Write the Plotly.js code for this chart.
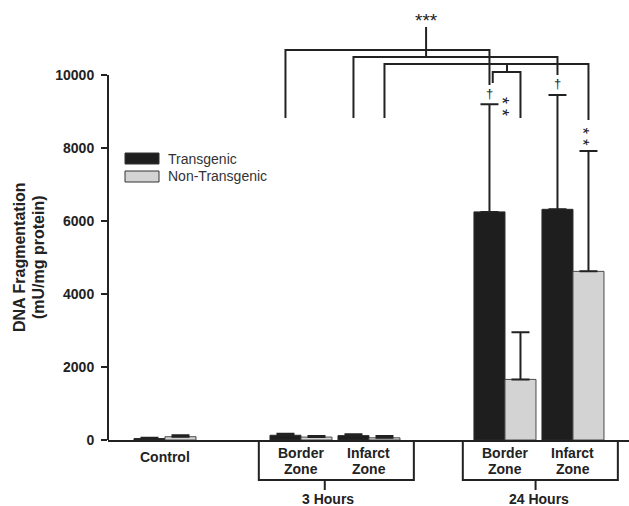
<!DOCTYPE html>
<html>
<head>
<meta charset="utf-8">
<script src="https://cdn.plot.ly/plotly-3.0.1.min.js"></script>
<style>html,body{margin:0;padding:0;background:#fff;}#chart{width:629px;height:506px;}</style>
</head>
<body>
<div id="chart"></div>
<script>
// ---- data ----
const categories = ['Control', '3 Hours Border Zone', '3 Hours Infarct Zone', '24 Hours Border Zone', '24 Hours Infarct Zone'];
const axisOrder = ['Control', 'gap-1', '3 Hours Border Zone', '3 Hours Infarct Zone', 'gap-2', '24 Hours Border Zone', '24 Hours Infarct Zone'];
const transgenic = [40, 130, 120, 6250, 6320];
const transgenicSD = [20, 40, 40, 2950, 3130];
const nonTransgenic = [90, 80, 60, 1660, 4620];
const nonTransgenicSD = [40, 30, 50, 1290, 3300];
const seriesNames = ['Transgenic', 'Non-Transgenic'];
const yTicks = [0, 2000, 4000, 6000, 8000, 10000];
const zoneLabels = [['Border', 'Zone'], ['Infarct', 'Zone'], ['Border', 'Zone'], ['Infarct', 'Zone']];
const groupLabels = ['3 Hours', '24 Hours'];
const yTitle = ['DNA Fragmentation', '(mU/mg protein)'];

// ---- layout helpers (pixel -> paper) ----
const L = 108, R = 629, T = 2, B = 440;
const PX = p => (p - L) / (R - L);
const PY = p => (B - p) / (B - T);
const ink = '#222';
const FONT = 'Liberation Sans, Arial, sans-serif';

const traces = [
  {type: 'bar', name: seriesNames[0], x: categories, y: transgenic,
   marker: {color: '#1e1e1e', line: {color: '#2a2a2a', width: 1}},
   error_y: {type: 'data', symmetric: false, array: transgenicSD, arrayminus: transgenicSD.map(() => 0), color: ink, thickness: 2, width: 9},
   showlegend: false, hoverinfo: 'none'},
  {type: 'bar', name: seriesNames[1], x: categories, y: nonTransgenic,
   marker: {color: '#d3d3d3', line: {color: '#4a4a4a', width: 1}},
   error_y: {type: 'data', symmetric: false, array: nonTransgenicSD, arrayminus: nonTransgenicSD.map(() => 0), color: ink, thickness: 2, width: 9},
   showlegend: false, hoverinfo: 'none'}
];

const shapes = [];
const annotations = [];
const line = (x0, y0, x1, y1, xref, yref, w) => shapes.push({type: 'line', x0, y0, x1, y1, xref: xref || 'x', yref: yref || 'y', line: {color: ink, width: w || 2}});

// y axis line (only up to 10000)
line(0, 0, 0, 10000, 'paper', 'y');

// significance brackets: [xLeft, yLeftBottom, yTop, xRight, yRightBottom]
const off = 0.228;
const brackets = [
  [2 - off, 8822, 10685, 5 - off, 9726],
  [3 - off, 8822, 10493, 6 - off, 10000],
  [3 + off, 8822, 10301, 6 + off, 8767],
  [4.82, 9781, 10082, 5 + off, 8822]
];
brackets.forEach(b => {
  shapes.push({type: 'path', xref: 'x', yref: 'y',
    path: `M${b[0]},${b[1]} L${b[0]},${b[2]} L${b[3]},${b[2]} L${b[3]},${b[4]}`,
    line: {color: ink, width: 2}});
});
line(3.84, 10493, 3.84, 11315);
line(5.03, 10082, 5.03, 10301);

const txt = (text, x, y, opts) => annotations.push(Object.assign({text, x, y, xref: 'x', yref: 'y', showarrow: false,
  font: {family: FONT, size: 14, color: ink}, xanchor: 'center', yanchor: 'middle'}, opts || {}));

txt('***', 3.84, 11480, {font: {family: FONT, size: 19, color: ink}});
txt('†', 5 - off, 9500, {font: {family: FONT, size: 13, color: ink}});
txt('†', 6 - off, 9770, {font: {family: FONT, size: 13, color: ink}});
txt('* *', 5.03, 9151, {textangle: 90, xshift: -5, font: {family: FONT, size: 18, color: ink}});
txt('* *', 6 + off, 8301, {textangle: 90, xshift: -5, font: {family: FONT, size: 17, color: ink}});

// x labels
const bold = {family: FONT, size: 14, color: ink, weight: 'bold'};
annotations.push({text: 'Control', x: 0, y: PY(457), xref: 'x', yref: 'paper', showarrow: false, font: bold, yanchor: 'middle'});
const zoneIdx = [2, 3, 5, 6];
zoneIdx.forEach((xi, i) => {
  annotations.push({text: zoneLabels[i][0], x: xi, y: PY(453), xref: 'x', yref: 'paper', showarrow: false, font: bold, yanchor: 'middle'});
  annotations.push({text: zoneLabels[i][1], x: xi, y: PY(469), xref: 'x', yref: 'paper', showarrow: false, font: bold, yanchor: 'middle'});
});
// group boxes
[[2, 3, 2.35], [5, 6, 5.45]].forEach((g, i) => {
  shapes.push({type: 'path', xref: 'x', yref: 'paper',
    path: `M${g[0] - 0.62},${PY(440)} L${g[0] - 0.62},${PY(480)} L${g[1] + 0.66},${PY(480)} L${g[1] + 0.66},${PY(440)}`,
    line: {color: ink, width: 2}});
  shapes.push({type: 'line', xref: 'x', yref: 'paper', x0: g[2], x1: g[2], y0: PY(480), y1: PY(490), line: {color: ink, width: 2}});
  annotations.push({text: groupLabels[i], x: g[2] + 0.05, y: PY(499), xref: 'x', yref: 'paper', showarrow: false, font: bold, yanchor: 'middle'});
});

// y title
yTitle.forEach((t, i) => {
  annotations.push({text: t, x: PX(i === 0 ? 19 : 38), y: PY(257), xref: 'paper', yref: 'paper', showarrow: false,
    textangle: -90, font: {family: FONT, size: 16, color: ink, weight: 'bold'}, xanchor: 'center', yanchor: 'middle'});
});

// legend (manual)
const legCols = ['#1e1e1e', '#d3d3d3'];
seriesNames.forEach((n, i) => {
  const top = 153 + i * 18;
  shapes.push({type: 'rect', xref: 'paper', yref: 'paper', x0: PX(125), x1: PX(159), y0: PY(top), y1: PY(top + 11),
    fillcolor: legCols[i], line: {color: '#333', width: 1}});
  annotations.push({text: n, x: PX(166), y: PY(top + 5.5), xref: 'paper', yref: 'paper', showarrow: false,
    font: {family: FONT, size: 14, color: '#333'}, xanchor: 'left', yanchor: 'middle'});
});

const layout = {
  width: 629, height: 506,
  margin: {l: L, r: 629 - R, t: T, b: 506 - B, pad: 0},
  paper_bgcolor: '#fff', plot_bgcolor: '#fff',
  barmode: 'group', bargap: 0.088, bargroupgap: 0,
  showlegend: false,
  xaxis: {type: 'category', categoryorder: 'array', categoryarray: axisOrder, range: [-0.838, 6.824],
    showline: true, linecolor: ink, linewidth: 2, ticks: '', showticklabels: false, showgrid: false, zeroline: false, fixedrange: true},
  yaxis: {range: [0, 12000], tickvals: yTicks, ticktext: yTicks.map(String), ticks: 'outside', ticklen: 6, tickwidth: 2, tickcolor: ink,
    tickfont: {family: FONT, size: 14, color: ink, weight: 'bold'}, ticklabelstandoff: 4,
    showline: false, showgrid: false, zeroline: false, fixedrange: true},
  shapes, annotations
};

Plotly.newPlot('chart', traces, layout, {staticPlot: true, displayModeBar: false});
</script>
</body>
</html>
